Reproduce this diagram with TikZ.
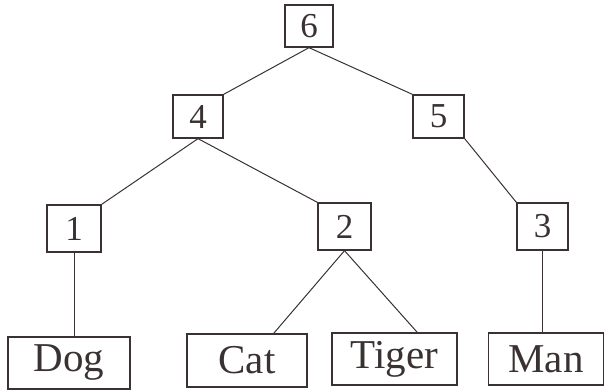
\documentclass[tikz,border=0pt]{standalone}
\usepackage{fontspec}
\setmainfont{Liberation Serif}
\usetikzlibrary{calc}
\definecolor{ink}{HTML}{3A3232}
\begin{document}
\begin{tikzpicture}[x=1pt,y=1pt,
  numbox/.style={draw=ink, line width=1.3pt, inner sep=0pt, text=ink,
    font=\fontsize{35}{35}\selectfont},
  wordbox/.style={draw=ink, line width=1.3pt, inner sep=0pt, text=ink,
    minimum height=52pt, font=\fontsize{41}{41}\selectfont},
  edge/.style={draw=ink, line width=1pt}]
\useasboundingbox (0,0) rectangle (604,390);
\node[numbox, minimum width=48pt, minimum height=42pt] (n6) at (309,364) {6};
\node[numbox, minimum width=50pt, minimum height=43pt] (n4) at (198,273.5) {4};
\node[numbox, minimum width=51pt, minimum height=43pt] (n5) at (438.5,273.5) {5};
\node[numbox, minimum width=54pt, minimum height=47pt] (n1) at (74,161.5) {1};
\node[numbox, minimum width=53pt, minimum height=47pt] (n2) at (344.5,163.5) {2};
\node[numbox, minimum width=51pt, minimum height=47pt] (n3) at (542.5,163.5) {3};
\node[wordbox, minimum width=122pt] (dog) at (69,27) {Dog};
\node[wordbox, minimum width=120pt, minimum height=53pt] (cat) at (247,29.5) {Cat};
\node[wordbox, minimum width=125pt] (tiger) at (394.5,31) {Tiger};
\node[wordbox, minimum width=115pt] (man) at (546,31) {Man};
\draw[edge] (n6.south) -- (n4.north east);
\draw[edge] (n6.south) -- (n5.north west);
\draw[edge] (n4.south) -- (n1.north east);
\draw[edge] (n4.south) -- (n2.north west);
\draw[edge] (n5.south east) -- (n3.north west);
\draw[edge] (n1.south) -- (n1.south |- dog.north);
\draw[edge] (n2.south) -- ($(cat.north west)!0.72!(cat.north east)$);
\draw[edge] (n2.south) -- ($(tiger.north west)!0.68!(tiger.north east)$);
\draw[edge] (n3.south) -- (n3.south |- man.north);
\end{tikzpicture}
\end{document}
